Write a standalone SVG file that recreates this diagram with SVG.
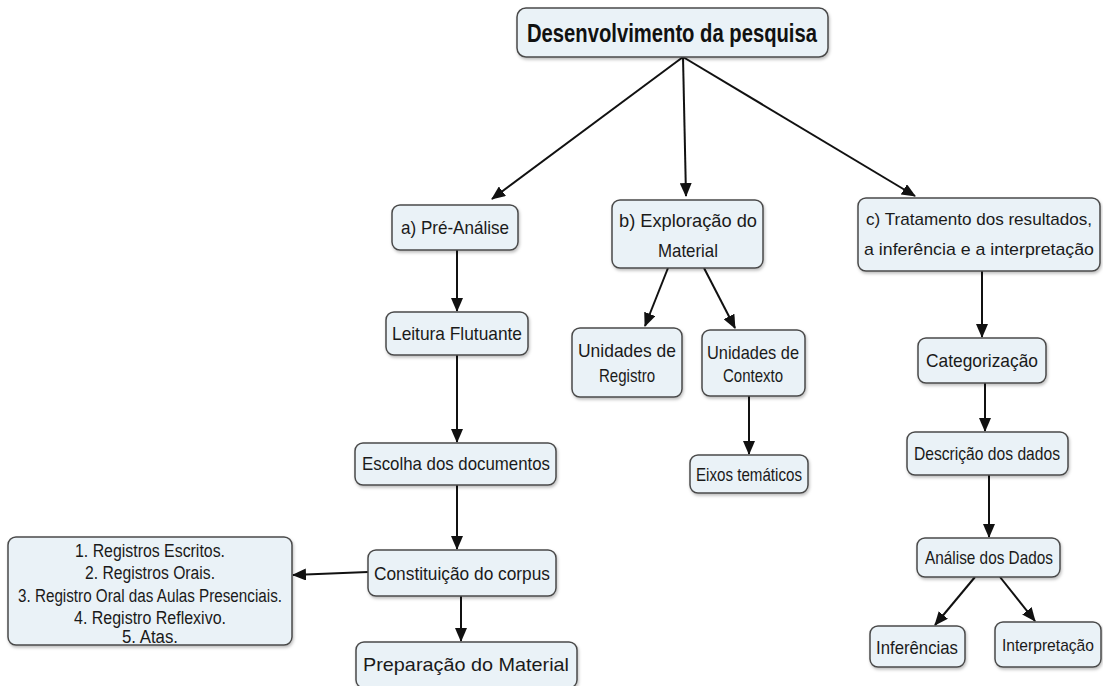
<svg xmlns="http://www.w3.org/2000/svg" width="1103" height="686" viewBox="0 0 1103 686">
<style>
.box{fill:#eaf2f7;stroke:#4a4a4a;stroke-width:1.5}
.t{font-family:"Liberation Sans",Arial,sans-serif;font-size:19px;fill:#1a1a1a;text-anchor:middle}
.s{font-family:"Liberation Sans",Arial,sans-serif;font-size:17px;fill:#1a1a1a;text-anchor:middle}
.l{font-family:"Liberation Sans",Arial,sans-serif;font-size:18px;fill:#1a1a1a;text-anchor:middle}
.title{font-family:"Liberation Sans",Arial,sans-serif;font-size:26px;font-weight:bold;fill:#111;text-anchor:middle}
.c{stroke:#111;stroke-width:2;fill:none;marker-end:url(#ah)}
</style>
<defs>
<marker id="ah" viewBox="0 0 14 12" refX="13" refY="6" markerWidth="14" markerHeight="12" markerUnits="userSpaceOnUse" orient="auto">
<path d="M0,0 L14,6 L0,12 z" fill="#111"/>
</marker>
<filter id="sh" x="-10%" y="-10%" width="120%" height="130%">
<feDropShadow dx="1" dy="2" stdDeviation="1.5" flood-color="#000" flood-opacity="0.25"/>
</filter>
</defs>
<rect width="1103" height="686" fill="#fff"/>
<g id="connectors">
<line class="c" x1="683" y1="57" x2="492" y2="199"/>
<line class="c" x1="683" y1="57" x2="686" y2="196"/>
<line class="c" x1="683" y1="57" x2="915" y2="196"/>
<line class="c" x1="457" y1="250" x2="457" y2="311"/>
<line class="c" x1="457" y1="355" x2="457" y2="442"/>
<line class="c" x1="457" y1="485" x2="457" y2="549"/>
<line class="c" x1="368" y1="572" x2="293" y2="575"/>
<line class="c" x1="461" y1="596" x2="461" y2="641"/>
<line class="c" x1="668" y1="268" x2="645" y2="326"/>
<line class="c" x1="704" y1="268" x2="735" y2="328"/>
<line class="c" x1="749" y1="396" x2="749" y2="454"/>
<line class="c" x1="982" y1="271" x2="982" y2="337"/>
<line class="c" x1="985" y1="383" x2="985" y2="431"/>
<line class="c" x1="989" y1="475" x2="989" y2="537"/>
<line class="c" x1="975" y1="577" x2="935" y2="625"/>
<line class="c" x1="1000" y1="577" x2="1035" y2="621"/>
</g>
<g id="n-root"><rect class="box" filter="url(#sh)" x="517" y="8" width="311" height="49" rx="9"/><text class="title" x="672" y="42" textLength="290" lengthAdjust="spacingAndGlyphs">Desenvolvimento da pesquisa</text></g>
<g id="n-a"><rect class="box" filter="url(#sh)" x="392" y="205" width="126" height="45" rx="8"/><text class="t" x="455" y="234" textLength="108" lengthAdjust="spacingAndGlyphs">a) Pré-Análise</text></g>
<g id="n-leitura"><rect class="box" filter="url(#sh)" x="386" y="312" width="142" height="43" rx="8"/><text class="t" x="457" y="340" textLength="130" lengthAdjust="spacingAndGlyphs">Leitura Flutuante</text></g>
<g id="n-escolha"><rect class="box" filter="url(#sh)" x="355" y="443" width="201" height="42" rx="8"/><text class="t" x="456" y="470" textLength="188" lengthAdjust="spacingAndGlyphs">Escolha dos documentos</text></g>
<g id="n-corpus"><rect class="box" filter="url(#sh)" x="368" y="550" width="188" height="46" rx="8"/><text class="t" x="462" y="580" textLength="176" lengthAdjust="spacingAndGlyphs">Constituição do corpus</text></g>
<g id="n-prep"><rect class="box" filter="url(#sh)" x="356" y="642" width="221" height="46" rx="8"/><text class="t" x="466" y="671" textLength="206" lengthAdjust="spacingAndGlyphs">Preparação do Material</text></g>
<g id="n-lista"><rect class="box" filter="url(#sh)" x="8" y="537" width="284" height="108" rx="8"/>
<text class="l" x="150" y="557" textLength="150" lengthAdjust="spacingAndGlyphs">1. Registros Escritos.</text>
<text class="l" x="150" y="579" textLength="130" lengthAdjust="spacingAndGlyphs">2. Registros Orais.</text>
<text class="l" x="150" y="602" textLength="264" lengthAdjust="spacingAndGlyphs">3. Registro Oral das Aulas Presenciais.</text>
<text class="l" x="150" y="624" textLength="152" lengthAdjust="spacingAndGlyphs">4. Registro Reflexivo.</text>
<text class="l" x="150" y="643" textLength="56" lengthAdjust="spacingAndGlyphs">5. Atas.</text></g>
<g id="n-b"><rect class="box" filter="url(#sh)" x="612" y="200" width="151" height="68" rx="8"/><text class="t" x="688" y="227" textLength="138" lengthAdjust="spacingAndGlyphs">b) Exploração do</text><text class="t" x="688" y="257" textLength="60" lengthAdjust="spacingAndGlyphs">Material</text></g>
<g id="n-ureg"><rect class="box" filter="url(#sh)" x="572" y="328" width="110" height="69" rx="8"/><text class="t" x="627" y="357" textLength="98" lengthAdjust="spacingAndGlyphs">Unidades de</text><text class="t" x="627" y="382" textLength="56" lengthAdjust="spacingAndGlyphs">Registro</text></g>
<g id="n-ucont"><rect class="box" filter="url(#sh)" x="702" y="330" width="103" height="66" rx="8"/><text class="t" x="753" y="359" textLength="92" lengthAdjust="spacingAndGlyphs">Unidades de</text><text class="t" x="753" y="382" textLength="60" lengthAdjust="spacingAndGlyphs">Contexto</text></g>
<g id="n-eixos"><rect class="box" filter="url(#sh)" x="690" y="455" width="118" height="38" rx="8"/><text class="t" x="749" y="481" textLength="106" lengthAdjust="spacingAndGlyphs">Eixos temáticos</text></g>
<g id="n-c"><rect class="box" filter="url(#sh)" x="858" y="198" width="242" height="73" rx="8"/><text class="s" x="979" y="225" textLength="226" lengthAdjust="spacingAndGlyphs">c) Tratamento dos resultados,</text><text class="s" x="979" y="255" textLength="230" lengthAdjust="spacingAndGlyphs">a inferência e a interpretação</text></g>
<g id="n-categ"><rect class="box" filter="url(#sh)" x="918" y="338" width="128" height="45" rx="8"/><text class="t" x="982" y="367" textLength="112" lengthAdjust="spacingAndGlyphs">Categorização</text></g>
<g id="n-desc"><rect class="box" filter="url(#sh)" x="907" y="432" width="161" height="43" rx="8"/><text class="t" x="987" y="460" textLength="146" lengthAdjust="spacingAndGlyphs">Descrição dos dados</text></g>
<g id="n-analise"><rect class="box" filter="url(#sh)" x="917" y="538" width="143" height="39" rx="8"/><text class="t" x="989" y="564" textLength="128" lengthAdjust="spacingAndGlyphs">Análise dos Dados</text></g>
<g id="n-infer"><rect class="box" filter="url(#sh)" x="870" y="626" width="95" height="41" rx="8"/><text class="t" x="917" y="654" textLength="82" lengthAdjust="spacingAndGlyphs">Inferências</text></g>
<g id="n-interp"><rect class="box" filter="url(#sh)" x="995" y="622" width="106" height="45" rx="8"/><text class="s" x="1048" y="651" textLength="92" lengthAdjust="spacingAndGlyphs">Interpretação</text></g>
</svg>
